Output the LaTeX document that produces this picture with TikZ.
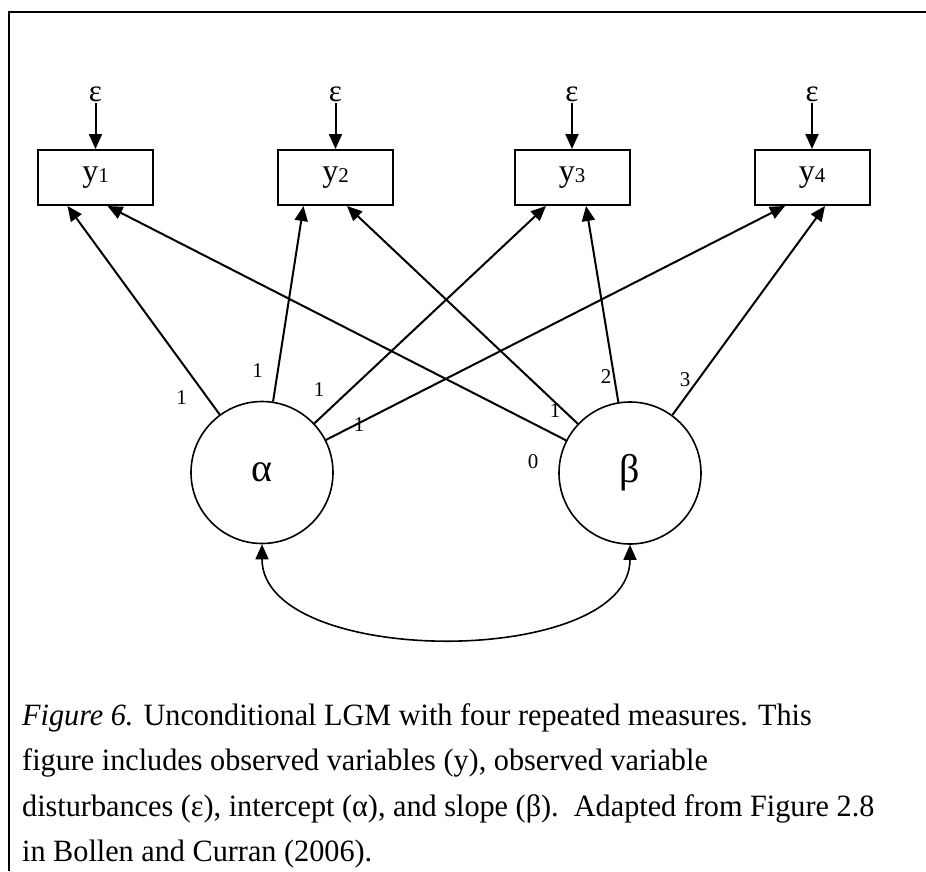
\documentclass[tikz,border=0pt]{standalone}
\usepackage{fontspec}
\setmainfont{Liberation Serif}
\newfontfamily\capfont[FakeStretch=0.975]{Liberation Serif}
\usetikzlibrary{arrows.meta}
\newcommand\mysub[1]{y\raisebox{-1pt}{\fontsize{21}{21}\selectfont #1}}
\tikzset{
  box/.style={draw, line width=2pt, minimum width=115pt, minimum height=55pt, inner sep=0pt, font=\fontsize{32}{32}\selectfont},
  lat/.style={draw, circle, line width=1.6pt, minimum size=142pt, inner sep=0pt, font=\fontsize{40}{40}\selectfont},
  err/.style={inner sep=1.5pt, font=\fontsize{31}{31}\selectfont},
  coef/.style={inner sep=0pt, font=\fontsize{21}{21}\selectfont},
  arr/.style={line width=2pt, -{Triangle[length=15pt,width=13pt]}},
  dbl/.style={line width=1.6pt, {Triangle[length=15pt,width=13pt]}-{Triangle[length=15pt,width=13pt]}},
  captext/.style={inner sep=0pt, font=\capfont\fontsize{31}{31}\selectfont},
}
\begin{document}
\begin{tikzpicture}[x=1pt,y=-1pt]
\useasboundingbox (0,0) rectangle (926,871);
% frame
\draw[line width=2pt] (8.5,871) -- (8.5,12) -- (926,12);
% observed
\node[box] (y1) at (95.5,177.5) {\mysub{1}};
\node[box] (y2) at (335.5,177.5) {\mysub{2}};
\node[box] (y3) at (572,177.5) {\mysub{3}};
\node[box] (y4) at (812,177.5) {\mysub{4}};
% errors
\node[err] (e1) at (95.5,94) {ε};
\node[err] (e2) at (335.5,94) {ε};
\node[err] (e3) at (572,94) {ε};
\node[err] (e4) at (812,94) {ε};
\draw[arr] (e1.south) -- (y1.north);
\draw[arr] (e2.south) -- (y2.north);
\draw[arr] (e3.south) -- (y3.north);
\draw[arr] (e4.south) -- (y4.north);
% latent
\node[lat] (a) at (262,472.5) {α};
\node[lat] (b) at (630,473) {β};
% loadings
\draw[arr] (a) -- ([xshift=-28pt]y1.south);
\draw[arr] (a) -- ([xshift=-32pt]y2.south);
\draw[arr] (a) -- ([xshift=-26pt]y3.south);
\draw[arr] (a) -- ([xshift=-27pt]y4.south);
\draw[arr] (b) -- ([xshift=12pt]y1.south);
\draw[arr] (b) -- ([xshift=11.5pt]y2.south);
\draw[arr] (b) -- ([xshift=14pt]y3.south);
\draw[arr] (b) -- ([xshift=13pt]y4.south);
% coefficient labels
\node[coef] (l1) at (181.5,398) {1};
\node[coef] (l2) at (257.5,371) {1};
\node[coef] (l3) at (319,390) {1};
\node[coef] (l4) at (359,425) {1};
\node[coef] (l5) at (533,462) {0};
\node[coef] (l6) at (555,411) {1};
\node[coef] (l7) at (606,377) {2};
\node[coef] (l8) at (685,380) {3};
% covariance
\draw[dbl] (a.south) .. controls +(0,124) and +(0,124) .. (b.south);
% caption
\node[captext, anchor=base west] (c1) at (22,725) {\textit{Figure 6.} Unconditional LGM with four repeated measures. This};
\node[captext, anchor=base west] (c2) at (22,770.5) {figure includes observed variables (y), observed variable};
\node[captext, anchor=base west] (c3) at (22,816) {disturbances (ε), intercept (α), and slope (β).\ \ Adapted from Figure 2.8};
\node[captext, anchor=base west] (c4) at (22,861.5) {in Bollen and Curran (2006).};
\end{tikzpicture}
\end{document}
